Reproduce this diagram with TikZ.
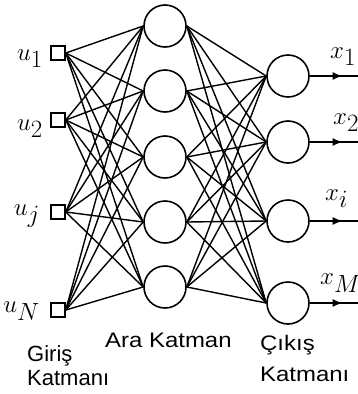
\documentclass[tikz,border=0pt]{standalone}
\usepackage[no-math]{fontspec}
\newfontfamily\lblfont{Liberation Sans}
\newfontfamily\widefont[FakeStretch=1.14]{Liberation Sans}
\usetikzlibrary{arrows.meta,decorations.markings}
\newcommand{\lowsub}[1]{\lower3pt\hbox{$\textstyle #1$}}
\begin{document}
\begin{tikzpicture}[x=1pt,y=-1pt,
  conn/.style={line width=1.4pt},
  inp/.style={draw, rectangle, line width=1.5pt, minimum size=14pt, inner sep=0pt},
  neuron/.style={draw, circle, line width=1.6pt, minimum size=42pt, inner sep=0pt},
  mlabel/.style={inner sep=0pt, font=\fontsize{24.88}{26}\selectfont},
  txt/.style={inner sep=0pt, anchor=base west, font=\fontsize{22}{24}\selectfont\lblfont},
  wtxt/.style={inner sep=0pt, anchor=base west, font=\fontsize{21}{24}\selectfont\widefont},
  outarrow/.style={conn, postaction={decorate}, decoration={markings,
      mark=at position 0.68 with {\arrow{Latex[length=10pt,width=8pt]}}}}]
\useasboundingbox (0,0) rectangle (358,394);
% input squares
\node[inp] (i1) at (58,53) {};
\node[inp] (i2) at (58,120) {};
\node[inp] (i3) at (58,212) {};
\node[inp] (i4) at (58,310) {};
% hidden neurons
\foreach \y [count=\k] in {26,91,157,222,287}
  \node[neuron] (h\k) at (165,\y) {};
% output neurons
\foreach \y [count=\k] in {76,142,221,303}
  \node[neuron] (o\k) at (288,\y) {};
% connections
\foreach \i in {1,...,4}
  \foreach \j in {1,...,5}
    \draw[conn] (i\i.east) -- (h\j.west);
\foreach \j in {1,...,5}
  \foreach \k in {1,...,4}
    \draw[conn] (h\j.east) -- (o\k.west);
% output arrows
\foreach \y [count=\k] in {76,142,221,303} {
  \coordinate (e\k) at (358,\y);
  \draw[outarrow] (o\k.east) -- (e\k);
}
% input labels
\node[mlabel, anchor=base east] (lu1) at (43,60) {$u_{\lowsub{1}}$};
\node[mlabel, anchor=base east] (lu2) at (43,130) {$u_{\lowsub{2}}$};
\node[mlabel, anchor=base east] (luj) at (40,215) {$u_{\lowsub{j}}$};
\node[mlabel, anchor=base east] (luN) at (40,312) {$u_{\lowsub{N}}$};
% output labels
\node[mlabel, anchor=base west] (lx1) at (330,58) {$x_{\lowsub{1}}$};
\node[mlabel, anchor=base west] (lx2) at (333,124) {$x_{\lowsub{2}}$};
\node[mlabel, anchor=base west] (lxi) at (325,200) {$x_{\lowsub{i}}$};
\node[mlabel, anchor=base west] (lxM) at (320,284) {$x_{\lowsub{M}}$};
% layer names
\node[txt] (g1) at (27,361) {Giriş};
\node[txt] (g2) at (27,385) {Katmanı};
\node[wtxt] (a1) at (105,347) {Ara Katman};
\node[wtxt] (c1) at (260,350) {Çıkış};
\node[wtxt] (c2) at (260,381) {Katmanı};
\end{tikzpicture}
\end{document}
